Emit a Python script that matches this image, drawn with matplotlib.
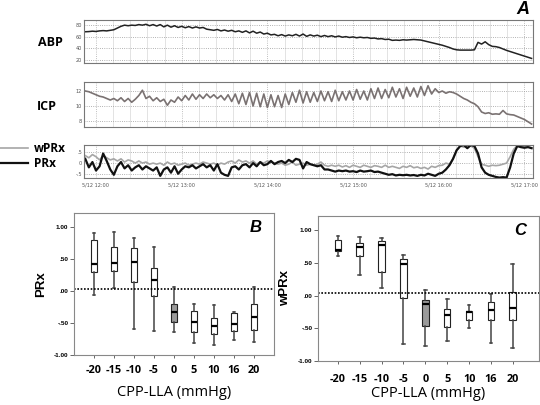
import numpy as np
import matplotlib
matplotlib.use("Agg")
import matplotlib.pyplot as plt

# ---- panel A: time series (minutes after 12:00, sampled every 2.5 min) ----
t_start = -7.5
t_step = 2.5

abp = [68.5, 68.8, 69.5, 69, 70, 70.5, 70, 71, 72, 75, 78, 80, 79, 80, 79.5, 81,
       80, 81.5, 79, 81, 78.5, 81, 77, 80, 76.5, 79, 76, 78, 75.5, 77.5, 75, 77,
       75, 76, 73, 72, 71, 72.5, 70, 71.5, 69.5, 71, 68.5, 70, 67.5, 70, 66.5, 69.5,
       66, 68, 64.5, 66, 63, 64, 61.5, 63.5, 61, 63, 61.5, 64, 61, 64.5, 60.5, 63,
       61, 62.5, 60, 62, 60, 61.5, 59.5, 61, 59, 60, 58.5, 59.5, 58, 59, 58, 58.5,
       57, 57.5, 56, 56.5, 55, 55.5, 53.5, 54, 53.5, 54.5, 54, 54.5, 55, 54.5, 54,
       52.5, 51, 49.5, 48, 46.5, 45, 43, 41, 38.5, 37, 36.5, 36.5, 36.5, 36.5, 37,
       50, 47, 51, 46, 43, 42.5, 41, 38.5, 36, 34, 32, 30, 28, 26, 24, 22]

icp = [12.0, 11.9, 11.7, 11.5, 11.3, 11.2, 11.0, 10.8, 11.0, 10.7, 11.1, 10.6, 11.0,
       10.5, 10.9, 11.4, 12.1, 11.0, 11.3, 10.7, 11.1, 10.6, 10.9, 10.1, 10.8, 10.5,
       11.2, 10.7, 11.4, 10.8, 11.6, 10.9, 11.5, 11.0, 11.6, 11.1, 11.5, 11.0, 11.4,
       10.8, 11.5, 10.6, 11.6, 10.3, 11.7, 10.2, 11.8, 10.0, 11.7, 9.9, 11.6, 9.8,
       11.5, 9.9, 11.4, 9.8, 11.6, 10.2, 11.8, 10.5, 12.1, 10.4, 11.9, 10.5, 11.8,
       10.6, 12.0, 10.7, 11.9, 10.6, 12.1, 10.7, 11.9, 10.8, 12.0, 10.8, 12.2, 10.9,
       12.0, 10.8, 12.3, 11.0, 12.4, 11.0, 12.2, 11.1, 12.5, 11.2, 12.3, 11.0, 12.5,
       11.3, 12.4, 11.2, 12.6, 11.4, 12.7, 11.6, 12.3, 11.8, 12.0, 11.7, 11.9, 11.8,
       11.6, 11.3, 11.0, 10.8, 10.5, 10.3, 9.9, 9.2, 9.0, 9.1, 8.9, 8.95, 8.9, 9.4,
       8.95, 8.85, 8.8, 8.6, 8.4, 8.2, 7.9, 7.6]

prx = [0.2, -0.2, 0.05, -0.35, -0.15, 0.45, 0.1, -0.3, -0.55, -0.15,
       0.05, -0.25, -0.1, -0.35, -0.2, -0.1, -0.3, -0.15, -0.25, -0.35,
       -0.2, -0.6, -0.3, -0.2, -0.45, -0.15, -0.5, -0.3, -0.15, -0.2,
       -0.1, -0.25, -0.15, -0.05, -0.2, -0.1, -0.35, -0.05, -0.45, -0.55,
       -0.6, -0.2, -0.15, -0.3, -0.1, -0.05, -0.2, 0.0, -0.15, 0.05,
       -0.1, -0.05, 0.1, -0.05, 0.05, 0.1, 0.0, 0.15, 0.05, 0.2,
       0.15, -0.25, 0.05, -0.05, -0.1, -0.15, -0.1, -0.3, -0.3, -0.35,
       -0.4, -0.35, -0.38, -0.35, -0.4, -0.38, -0.42, -0.35, -0.4, -0.38,
       -0.35, -0.42, -0.4, -0.45, -0.5, -0.55, -0.52, -0.58, -0.55, -0.57,
       -0.55, -0.58, -0.56, -0.6, -0.55, -0.58, -0.5, -0.55, -0.6, -0.5,
       -0.45, -0.3, -0.1, 0.2, 0.6, 0.8, 0.85, 0.7, 0.85, 0.8,
       0.45, -0.2, -0.45, -0.55, -0.6, -0.65, -0.68, -0.66, -0.68, -0.2,
       0.45, 0.8, 0.75, 0.72, 0.75, 0.7]

wprx = [0.35, 0.25, 0.4, 0.3, 0.15, 0.35, 0.25, 0.15, 0.2, 0.1,
        0.2, 0.05, 0.15, 0.1, 0.0, 0.1, 0.0, 0.05, -0.05, 0.0,
        -0.05, 0.0, -0.1, 0.05, -0.05, 0.0, -0.1, -0.05, 0.0, -0.1,
        -0.05, 0.0, -0.05, 0.05, 0.0, -0.05, 0.0, -0.1, 0.0, -0.05,
        0.05, 0.1, 0.0, 0.15, 0.05, 0.1, 0.0, 0.1, -0.05, 0.05,
        0.0, 0.1, 0.05, 0.0, -0.05, 0.0, -0.1, -0.05, 0.05, -0.1,
        -0.05, 0.0, -0.1, -0.05, -0.1, -0.05, 0.05, -0.1, -0.15, -0.1,
        -0.15, -0.1, -0.18, -0.12, -0.2, -0.1, -0.15, -0.2, -0.1, -0.15,
        -0.2, -0.12, -0.15, -0.2, -0.1, -0.2, -0.15, -0.2, -0.25, -0.15,
        -0.2, -0.12, -0.22, -0.18, -0.25, -0.2, -0.28, -0.15, -0.2, -0.12,
        -0.1, 0.0, -0.05, 0.2, 0.6, 0.8, 0.75, 0.78, 0.8, 0.7,
        0.3, -0.05, -0.1, -0.15, -0.1, -0.12, -0.1, -0.05, 0.0, 0.3,
        0.65, 0.82, 0.8, 0.78, 0.76, 0.72]

hour_ticks = [0, 60, 120, 180, 240, 300]
hour_labels = ["5/12 12:00", "5/12 13:00", "5/12 14:00", "5/12 15:00",
               "5/12 16:00", "5/12 17:00"]

# ---- panels B and C: box plot summaries ----
cpp_labels = ["-20", "-15", "-10", "-5", "0", "5", "10", "16", "20"]

# columns: whisker low, q1, median, q3, whisker high
prx_stats = [
    [-0.06, 0.30, 0.42, 0.80, 0.91],
    [0.05, 0.32, 0.44, 0.69, 0.92],
    [-0.59, 0.14, 0.45, 0.68, 0.83],
    [-0.62, -0.07, 0.17, 0.36, 0.69],
    [-0.64, -0.48, -0.33, -0.20, 0.07],
    [-0.82, -0.64, -0.49, -0.31, -0.20],
    [-0.84, -0.67, -0.54, -0.42, -0.22],
    [-0.77, -0.62, -0.51, -0.35, -0.32],
    [-0.79, -0.61, -0.41, -0.20, 0.06],
]
wprx_stats = [
    [0.60, 0.68, 0.70, 0.86, 0.91],
    [0.31, 0.60, 0.75, 0.81, 0.90],
    [0.12, 0.36, 0.78, 0.83, 0.88],
    [-0.74, -0.04, 0.49, 0.56, 0.62],
    [-0.77, -0.46, -0.12, -0.07, 0.09],
    [-0.70, -0.48, -0.30, -0.21, -0.05],
    [-0.49, -0.37, -0.25, -0.23, -0.14],
    [-0.73, -0.37, -0.22, -0.09, 0.03],
    [-0.80, -0.37, -0.19, 0.05, 0.48],
]
ref_b = 0.03
ref_c = 0.035

W, H = 540, 405
fig = plt.figure(figsize=(5.4, 4.05), dpi=100)


def px_axes(left, top, right, bottom):
    return fig.add_axes([left / W, 1 - bottom / H, (right - left) / W, (bottom - top) / H])


t = t_start + t_step * np.arange(len(abp))
xlim_t = (-8.4, 306)


def style_trace_axes(ax, yticks, ylabels):
    ax.set_xlim(xlim_t)
    ax.set_yticks(yticks)
    ax.set_yticklabels(ylabels)
    ax.set_xticks(hour_ticks)
    ax.set_xticks(np.arange(-0, 306, 12), minor=True)
    ax.tick_params(axis="both", which="both", length=0, labelsize=3.6,
                   labelcolor="#555555", pad=1.5)
    ax.grid(True, which="minor", axis="x", color="#dedede", lw=0.6)
    ax.grid(True, which="major", axis="x", color="#aaaaaa", lw=0.6, ls=":")
    ax.grid(True, which="major", axis="y", color="#999999", lw=0.6, ls=":")
    for s in ax.spines.values():
        s.set_color("#777777")
        s.set_linewidth(0.8)


ax1 = px_axes(84, 20, 533, 63)
ax1.plot(t, abp, color="#222222", lw=1.1)
ax1.set_ylim(14, 89)
style_trace_axes(ax1, [20, 40, 60, 80], ["20", "40", "60", "80"])
ax1.set_xticklabels([])

ax2 = px_axes(84, 82, 533, 127)
ax2.plot(t, icp, color="#7a7272", lw=1.2)
ax2.set_ylim(7.2, 13.2)
style_trace_axes(ax2, [8, 10, 12], ["8", "10", "12"])
ax2.set_xticklabels([])

ax3 = px_axes(84, 145, 533, 178)
l_w, = ax3.plot(t, wprx, color="#a6a6a6", lw=1.2, label="wPRx")
l_p, = ax3.plot(t, prx, color="#111111", lw=1.6, label="PRx")
ax3.set_ylim(-0.7, 0.85)
style_trace_axes(ax3, [-0.5, 0, 0.5], ["-.5", "0", ".5"])
ax3.set_xticklabels(hour_labels)
ax3.tick_params(axis="x", pad=3)

fig.legend(handles=[l_w, l_p], loc="center left", bbox_to_anchor=(-0.025, 1 - 156 / H),
           frameon=False, handlelength=2.6, handletextpad=0.5, labelspacing=0.2,
           prop={"family": "Open Sans", "weight": "bold", "size": 8.5})

fig.text(50 / W, 1 - 43 / H, "ABP", ha="center", va="center", family="Open Sans",
         weight="bold", fontsize=9)
fig.text(47 / W, 1 - 106 / H, "ICP", ha="center", va="center", family="Open Sans",
         weight="bold", fontsize=9)
fig.text(523 / W, 1 - 9 / H, "A", ha="center", va="center", family="Liberation Sans",
         weight="bold", style="italic", fontsize=13)


def box_panel(ax, stats, ref, ylabel, letter, xlim, label_pad, xlabel_pad):
    pos = np.arange(1, len(cpp_labels) + 1)
    bstats = []
    for s, lab in zip(stats, cpp_labels):
        bstats.append({"whislo": s[0], "q1": s[1], "med": s[2], "q3": s[3],
                       "whishi": s[4], "fliers": [], "label": lab})
    bp = ax.bxp(bstats, positions=pos, widths=0.3, patch_artist=True, showfliers=False,
                boxprops={"facecolor": "white", "edgecolor": "#222222", "lw": 0.8},
                whiskerprops={"color": "#444444", "lw": 1.1},
                capprops={"color": "#444444", "lw": 1.1},
                medianprops={"color": "black", "lw": 1.6}, capwidths=0.12)
    bp["boxes"][4].set_facecolor("#9a9a9a")
    ax.axhline(ref, color="black", ls=(0, (1, 1)), lw=1.2)
    ax.set_xlim(xlim)
    ax.set_ylim(-1.0, 1.22)
    ax.set_yticks([-1, -0.5, 0, 0.5, 1])
    ax.set_yticklabels(["-1.00", "-.50", ".00", ".50", "1.00"], family="Liberation Sans",
                       weight="bold", fontsize=4.6)
    ax.set_xticks(pos)
    ax.set_xticklabels(cpp_labels, family="Open Sans", weight="bold", fontsize=7.8)
    ax.tick_params(axis="y", length=3, width=0.7, color="#666666", pad=1)
    ax.tick_params(axis="x", length=2, width=0.7, color="#666666", pad=label_pad)
    ax.set_xlabel("CPP-LLA (mmHg)", family="Open Sans", fontsize=10.5, labelpad=xlabel_pad)
    ax.set_ylabel(ylabel, family="Liberation Sans", weight="bold", fontsize=9.5, labelpad=5)
    for s in ax.spines.values():
        s.set_color("#888888")
        s.set_linewidth(0.8)
    ax.text(0.94, 0.9, letter, transform=ax.transAxes, ha="right", va="center",
            family="Liberation Sans", weight="bold", style="italic", fontsize=12)


axB = px_axes(74, 213, 274, 355)
box_panel(axB, prx_stats, ref_b, "PRx", "B", (0, 10), 5, 7)

axC = px_axes(318, 216, 539, 361)
box_panel(axC, wprx_stats, ref_c, "wPRx", "C", (0.09, 10.2), 7, 1)

fig.savefig("out.png", dpi=100)
